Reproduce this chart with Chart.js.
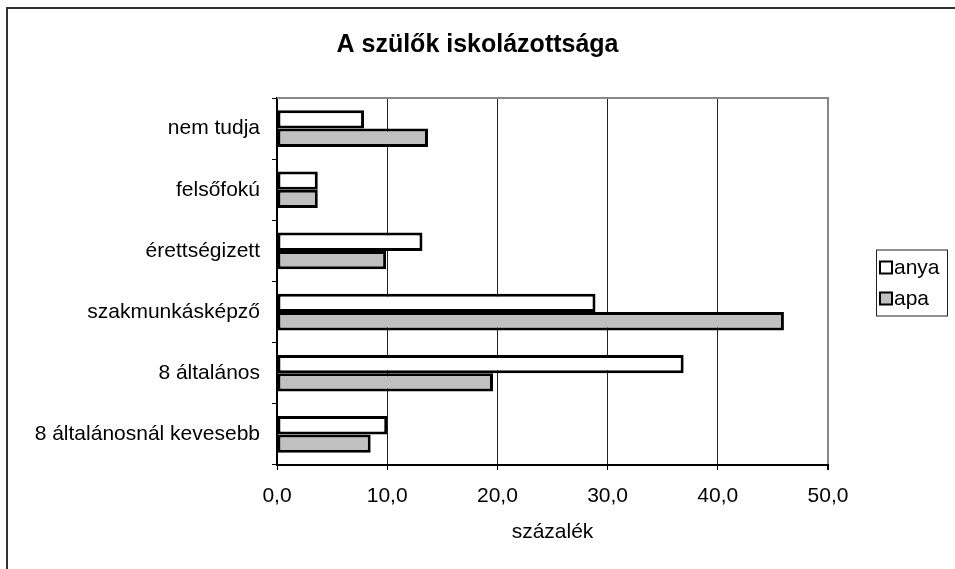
<!DOCTYPE html>
<html lang="hu">
<head>
<meta charset="UTF-8">
<title>A szülők iskolázottsága</title>
<script src="https://cdn.jsdelivr.net/npm/chart.js@4/dist/chart.umd.min.js"></script>
<style>
  html, body { margin: 0; padding: 0; background: #fff; overflow: hidden; }
  #wrap { position: absolute; left: 0; top: 0; width: 955px; height: 569px; }
  #frame { position: absolute; left: 6px; top: 7px; width: 1000px; height: 600px;
           border-left: 2px solid #333; border-top: 2px solid #333; pointer-events: none; }
</style>
</head>
<body>
<div id="wrap"><canvas id="chart" width="955" height="569"></canvas></div>
<div id="frame"></div>
<script>
// categories, top to bottom
const categories = ['nem tudja', 'felsőfokú', 'érettségizett', 'szakmunkásképző', '8 általános', '8 általánosnál kevesebb'];
const anya = [7.9, 3.7, 13.2, 28.9, 36.9, 10.0];
const apa = [13.7, 3.7, 9.9, 46.0, 19.6, 8.5];
const xTicks = [0, 10, 20, 30, 40, 50];

const FONT = 'Arial, "Liberation Sans", sans-serif';
Chart.defaults.color = '#000';
Chart.defaults.font.family = FONT;

// plot frame (gray top edge) + boxed legend on the right
const framePlugin = {
  id: 'frame',
  beforeDatasetsDraw(chart) {
    const { ctx, chartArea: a } = chart;
    ctx.save();
    ctx.strokeStyle = '#888';
    ctx.lineWidth = 2;
    ctx.beginPath();
    ctx.moveTo(a.left, a.top);
    ctx.lineTo(a.right + 1, a.top);
    ctx.stroke();
    ctx.restore();
  },
  afterDraw(chart) {
    const { ctx, chartArea: a } = chart;
    const x = a.right + 48, w = 71, h = 66;
    const y = (a.top + a.bottom) / 2 - h / 2 + 1;
    ctx.save();
    ctx.strokeStyle = '#222';
    ctx.lineWidth = 1;
    ctx.strokeRect(x + 0.5, y + 0.5, w, h);
    ctx.font = '21px ' + FONT;
    ctx.textBaseline = 'middle';
    chart.data.datasets.forEach((ds, i) => {
      const cy = y + 18 + i * 31;
      ctx.fillStyle = ds.backgroundColor;
      ctx.fillRect(x + 4, cy - 6, 12, 12);
      ctx.strokeStyle = '#000';
      ctx.lineWidth = 2;
      ctx.strokeRect(x + 4, cy - 6, 12, 12);
      ctx.fillStyle = '#000';
      ctx.fillText(ds.label, x + 18, cy + 1);
    });
    ctx.restore();
  }
};

new Chart(document.getElementById('chart'), {
  type: 'bar',
  data: {
    labels: categories,
    datasets: [
      { label: 'anya', data: anya, backgroundColor: '#ffffff', borderColor: '#000', borderWidth: 3, borderSkipped: false },
      { label: 'apa', data: apa, backgroundColor: '#c0c0c0', borderColor: '#000', borderWidth: 3, borderSkipped: false }
    ]
  },
  options: {
    indexAxis: 'y',
    responsive: false,
    animation: false,
    layout: { padding: { left: 0, right: 0, top: 0, bottom: 24 } },
    datasets: { bar: { categoryPercentage: 0.6, barPercentage: 1 } },
    plugins: {
      legend: { display: false },
      tooltip: { enabled: false },
      title: {
        display: true,
        text: 'A szülők iskolázottsága',
        color: '#000',
        font: { size: 25, weight: 'bold', family: FONT },
        padding: { top: 30, bottom: 38 }
      }
    },
    scales: {
      x: {
        min: 0, max: 50,
        afterBuildTicks(scale) { scale.ticks = xTicks.map(v => ({ value: v })); },
        afterFit(scale) { scale.height = 80; },
        ticks: {
          font: { size: 21 }, padding: 14, color: '#000',
          callback: v => v.toFixed(1).replace('.', ',')
        },
        grid: {
          color: c => c.tick && c.tick.value === 50 ? '#888' : '#222',
          lineWidth: c => c.tick && c.tick.value === 50 ? 2 : 1,
          tickColor: '#000', tickLength: 5
        },
        border: { color: '#000', width: 2 },
        title: { display: true, text: 'százalék', font: { size: 21 }, color: '#000', padding: 0 }
      },
      y: {
        afterFit(scale) { scale.width = 277; },
        ticks: { font: { size: 21 }, padding: 12, color: '#000' },
        grid: { drawOnChartArea: false, tickColor: '#000', tickLength: 5, offset: true },
        border: { color: '#000', width: 2 }
      },
      yRight: {
        type: 'category',
        position: 'right',
        labels: categories,
        afterFit(scale) { scale.width = 127; },
        ticks: { display: false },
        grid: { display: false },
        border: { display: false }
      }
    }
  },
  plugins: [framePlugin]
});
</script>
</body>
</html>
